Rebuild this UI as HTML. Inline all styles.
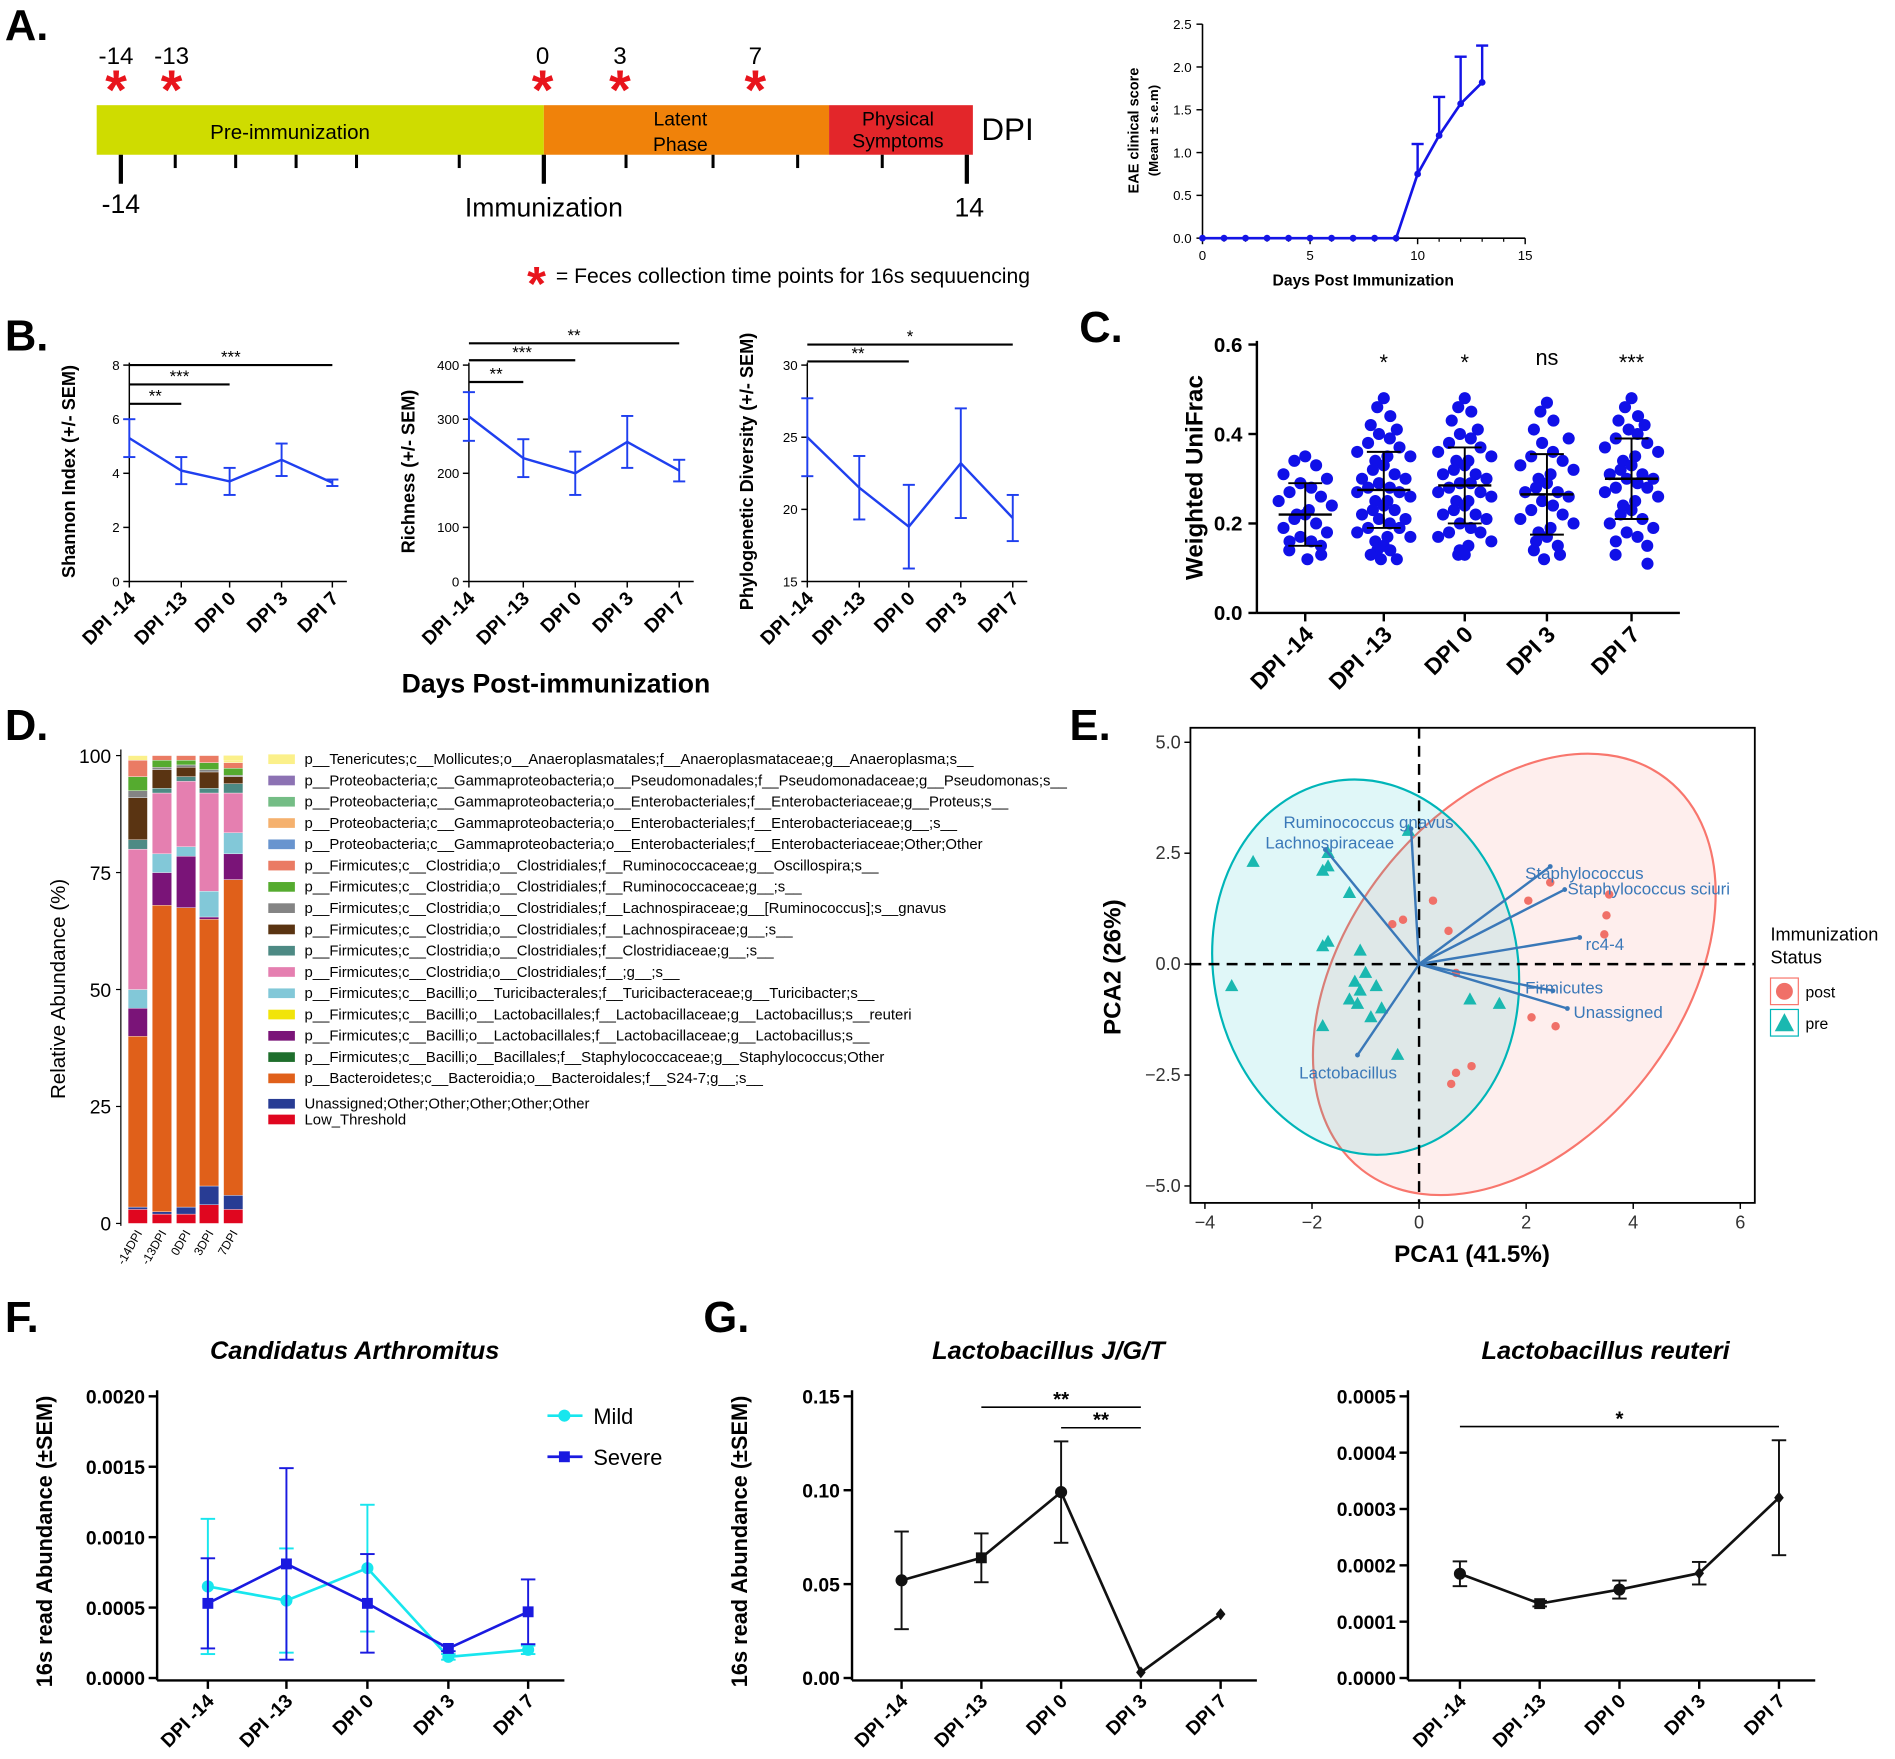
<!DOCTYPE html>
<html><head><meta charset="utf-8"><title>Figure</title>
<style>
html,body{margin:0;padding:0;background:#fff;}
svg{display:block;font-family:"Liberation Sans",Arial,sans-serif;}
</style></head>
<body>
<svg id="fig" width="1895" height="1759" viewBox="0 0 1568 1455" preserveAspectRatio="none" xmlns="http://www.w3.org/2000/svg"></svg>
<script>
// ---------- DATA ----------
const eaeDays=[0,1,2,3,4,5,6,7,8,9,10,11,12,13];
const eaeScore=[0,0,0,0,0,0,0,0,0,0,0.75,1.2,1.57,1.82];
const eaeErr=[0,0,0,0,0,0,0,0,0,0,0.35,0.45,0.55,0.43];
const dpiCats=["DPI -14","DPI -13","DPI 0","DPI 3","DPI 7"];
const shannon=[5.3,4.1,3.7,4.5,3.65];
const shannonErr=[0.7,0.5,0.5,0.6,0.12];
const richness=[305,228,200,258,205];
const richnessErr=[45,35,40,48,20];
const pd=[25,21.5,18.8,23.2,19.4];
const pdErr=[2.7,2.2,2.9,3.8,1.6];
const uni0=[.35,.34,.33,.31,.30,.29,.28,.27,.26,.25,.24,.23,.22,.22,.21,.20,.19,.18,.17,.16,.16,.15,.14,.13,.12];
const uni1=[.48,.46,.44,.42,.41,.40,.39,.38,.37,.36,.35,.35,.34,.33,.32,.31,.30,.30,.29,.28,.28,.27,.27,.26,.25,.25,.24,.23,.23,.22,.21,.21,.20,.19,.19,.18,.17,.17,.16,.15,.14,.14,.13,.12,.12];
const uni2=[.48,.46,.45,.43,.41,.40,.39,.38,.37,.36,.35,.34,.34,.33,.32,.31,.31,.30,.29,.29,.28,.27,.27,.26,.25,.25,.24,.23,.22,.22,.21,.20,.19,.18,.18,.17,.16,.15,.14,.13,.13];
const uni3=[.47,.45,.43,.41,.39,.38,.36,.35,.34,.33,.32,.31,.30,.29,.28,.27,.27,.26,.25,.24,.23,.22,.21,.20,.19,.18,.17,.16,.15,.14,.13,.12];
const uni4=[.48,.46,.44,.43,.42,.41,.40,.39,.38,.37,.36,.35,.34,.33,.32,.31,.31,.30,.30,.29,.28,.28,.27,.26,.25,.24,.23,.22,.21,.20,.19,.18,.17,.16,.15,.13,.11];
const uniMed=[0.22,0.275,0.285,0.265,0.30];
const uniSd=[0.07,0.085,0.085,0.09,0.09];
const uniSig=["","*","*","ns","***"];
const taxa=["p__Tenericutes;c__Mollicutes;o__Anaeroplasmatales;f__Anaeroplasmataceae;g__Anaeroplasma;s__",
"p__Proteobacteria;c__Gammaproteobacteria;o__Pseudomonadales;f__Pseudomonadaceae;g__Pseudomonas;s__",
"p__Proteobacteria;c__Gammaproteobacteria;o__Enterobacteriales;f__Enterobacteriaceae;g__Proteus;s__",
"p__Proteobacteria;c__Gammaproteobacteria;o__Enterobacteriales;f__Enterobacteriaceae;g__;s__",
"p__Proteobacteria;c__Gammaproteobacteria;o__Enterobacteriales;f__Enterobacteriaceae;Other;Other",
"p__Firmicutes;c__Clostridia;o__Clostridiales;f__Ruminococcaceae;g__Oscillospira;s__",
"p__Firmicutes;c__Clostridia;o__Clostridiales;f__Ruminococcaceae;g__;s__",
"p__Firmicutes;c__Clostridia;o__Clostridiales;f__Lachnospiraceae;g__[Ruminococcus];s__gnavus",
"p__Firmicutes;c__Clostridia;o__Clostridiales;f__Lachnospiraceae;g__;s__",
"p__Firmicutes;c__Clostridia;o__Clostridiales;f__Clostridiaceae;g__;s__",
"p__Firmicutes;c__Clostridia;o__Clostridiales;f__;g__;s__",
"p__Firmicutes;c__Bacilli;o__Turicibacterales;f__Turicibacteraceae;g__Turicibacter;s__",
"p__Firmicutes;c__Bacilli;o__Lactobacillales;f__Lactobacillaceae;g__Lactobacillus;s__reuteri",
"p__Firmicutes;c__Bacilli;o__Lactobacillales;f__Lactobacillaceae;g__Lactobacillus;s__",
"p__Firmicutes;c__Bacilli;o__Bacillales;f__Staphylococcaceae;g__Staphylococcus;Other",
"p__Bacteroidetes;c__Bacteroidia;o__Bacteroidales;f__S24-7;g__;s__",
"Unassigned;Other;Other;Other;Other;Other",
"Low_Threshold"];
const taxaColors=["#fbf08a","#8c72b3","#74bd85","#f5b16e","#6894cf","#ea7b64","#55ab2f","#848484","#5a3412","#4d8a84","#e57fb0","#82c8d8","#f1e40a","#7a1478","#1e6e2c","#e0601a","#283c94","#e0061f"];
const barCats=["-14DPI","-13DPI","0DPI","3DPI","7DPI"];
const abund0=[3,0.5,36.5,0,6,0,4,30,2,9,1.5,3,3.5,0,0,0,0,1];
const abund1=[2,0.5,65.5,0,7,0,4,13,1,4,0.5,1.5,1,0,0,0,0,0];
const abund2=[2,1.5,64,0,11,0,2,14,1,2,0.5,1,1,0,0,0,0,0];
const abund3=[4,4,57,0,0.5,0,5.5,21,1,3.5,0.5,1.5,1.5,0,0,0,0,0];
const abund4=[3,3,67.5,0,5.5,0,4.5,8.5,2,1.5,0.3,1.5,1.2,0,0,0,0,0.5];
const prePts=[[-3.1,2.3],[-3.5,-0.5],[-1.8,2.1],[-1.7,2.2],[-1.7,2.5],[-1.3,1.6],[-1.8,0.4],[-1.7,0.5],[-1.1,0.3],[-1.0,-0.2],[-1.2,-0.4],[-1.1,-0.6],[-0.8,-0.5],[-1.3,-0.8],[-1.15,-0.9],[-0.9,-1.2],[-0.7,-1.0],[-1.8,-1.4],[-0.2,3.0],[0.95,-0.8],[1.5,-0.9],[-0.4,-2.05]];
const postPts=[[0.26,1.43],[0.55,0.75],[0.69,-0.2],[2.04,1.43],[2.45,1.84],[3.55,1.57],[3.5,1.1],[3.46,0.67],[2.1,-1.2],[2.55,-1.4],[0.98,-2.3],[0.69,-2.45],[0.6,-2.7],[-0.3,1.0],[-0.5,0.9]];
const loadNames=["Ruminococcus gnavus","Lachnospiraceae","Staphylococcus","Staphylococcus sciuri","rc4-4","Firmicutes","Unassigned","Lactobacillus"];
const loadX=[-0.15,-1.75,2.45,2.72,3.0,2.5,2.77,-1.15];
const loadY=[3.05,2.58,2.2,1.68,0.6,-0.6,-1.0,-2.05];
const mild=[0.00065,0.00055,0.00078,0.00015,0.0002];
const mildErr=[0.00048,0.00037,0.00045,0.00002,0.00003];
const severe=[0.00053,0.00081,0.00053,0.00021,0.00047];
const severeErr=[0.00032,0.00068,0.00035,0.00002,0.00023];
const lacJGT=[0.052,0.064,0.099,0.003,0.034];
const lacJGTErr=[0.026,0.013,0.027,0,0];
const reuteri=[0.000185,0.000132,0.000157,0.000186,0.00032];
const reuteriErr=[0.000022,0.000005,0.000016,0.00002,0.000102];

// ---------- HELPERS ----------
const svg=document.getElementById('fig');
const NS="http://www.w3.org/2000/svg";
function mk(tag,attrs,name,parent){
  const el=document.createElementNS(NS,tag);
  for(const k in attrs) el.setAttribute(k,attrs[k]);
  
  
  (parent||svg).appendChild(el);
  return el;
}
function txt(x,y,s,opt,name,parent){
  const o=Object.assign({x:x,y:y,'font-size':12,fill:'#000'},opt||{});
  const t=mk('text',o,name,parent);
  t.textContent=s;
  return t;
}
function line(x1,y1,x2,y2,opt,name,parent){
  return mk('line',Object.assign({x1:x1,y1:y1,x2:x2,y2:y2,stroke:'#000','stroke-width':1.5},opt||{}),name,parent);
}
function lin(d0,d1,r0,r1){return v=>r0+(v-d0)*(r1-r0)/(d1-d0);}
function errbar(x,y1,y2,w,col,name,parent){
  line(x,y1,x,y2,{stroke:col,'stroke-width':1.6},name,parent);
  line(x-w,y1,x+w,y1,{stroke:col,'stroke-width':1.6},name+'-cap-top',parent);
  line(x-w,y2,x+w,y2,{stroke:col,'stroke-width':1.6},name+'-cap-bottom',parent);
}
function rotLabel(x,y,s,fs,name,parent,bold){
  return txt(x,y,s,{'font-size':fs,'text-anchor':'end','font-weight':bold?'bold':'normal',transform:`rotate(-45 ${x} ${y})`},name,parent);
}
function panelLetter(x,y,s){txt(x,y,s,{'font-size':36,'font-weight':'bold'},'panel-label-'+s[0].toLowerCase());}

// ---------- PANEL A ----------
panelLetter(4,33,"A.");
const gA=mk('g',{},'timeline-panel');
mk('rect',{x:80,y:87,width:370,height:41,fill:'#cfdc00'},'pre-immunization-phase',gA);
mk('rect',{x:450,y:87,width:236,height:41,fill:'#f0820a'},'latent-phase',gA);
mk('rect',{x:686,y:87,width:119,height:41,fill:'#e3262a'},'physical-symptoms-phase',gA);
txt(240,115,"Pre-immunization",{'font-size':17,'text-anchor':'middle'},'pre-immunization-label',gA);
txt(563,104,"Latent",{'font-size':16,'text-anchor':'middle'},'latent-label',gA);
txt(563,125,"Phase",{'font-size':16,'text-anchor':'middle'},'phase-label',gA);
txt(743,104,"Physical",{'font-size':16,'text-anchor':'middle'},'physical-label',gA);
txt(743,122,"Symptoms",{'font-size':16,'text-anchor':'middle'},'symptoms-label',gA);
txt(812,116,"DPI",{'font-size':26},'dpi-label',gA);
[100,450,800].forEach(x=>line(x,128,x,152,{'stroke-width':3.5},'major-tick',gA));
[145,195,245,295,380,518,590,660,730].forEach(x=>line(x,128,x,139,{'stroke-width':2.5},'minor-tick',gA));
txt(100,176,"-14",{'font-size':22,'text-anchor':'middle'},'tick-minus14',gA);
txt(450,179,"Immunization",{'font-size':22,'text-anchor':'middle'},'immunization-label',gA);
txt(802,179,"14",{'font-size':22,'text-anchor':'middle'},'tick-14',gA);
[["-14",96],["-13",142],["0",449],["3",513],["7",625]].forEach(p=>{
  txt(p[1],53,p[0],{'font-size':20,'text-anchor':'middle'},'collection-day-label',gA);
  txt(p[1],90,"*",{'font-size':46,'text-anchor':'middle',fill:'#e8141c','font-weight':'bold'},'collection-asterisk',gA);
});
txt(444,248,"*",{'font-size':40,'text-anchor':'middle',fill:'#e8141c','font-weight':'bold'},'legend-asterisk',gA);
txt(460,234,"= Feces collection time points for 16s sequuencing",{'font-size':17.5},'asterisk-legend-text',gA);

// EAE inset
const gE=mk('g',{},'eae-score-chart');
const ex=lin(0,15,995,1262), ey=lin(0,2.5,197,20);
line(995,20,995,197,{'stroke-width':1.3},'eae-y-axis',gE);
line(995,197,1262,197,{'stroke-width':1.3},'eae-x-axis',gE);
[0,0.5,1,1.5,2,2.5].forEach(v=>{line(990,ey(v),995,ey(v),{'stroke-width':1.2},'eae-y-tick',gE);txt(986,ey(v)+4,v.toFixed(1),{'font-size':11,'text-anchor':'end'},'eae-y-tick-label',gE);});
[0,5,10,15].forEach(v=>{line(ex(v),197,ex(v),202,{'stroke-width':1.2},'eae-x-tick',gE);txt(ex(v),215,String(v),{'font-size':11,'text-anchor':'middle'},'eae-x-tick-label',gE);});
for(let v=1;v<15;v++) if(v%5) line(ex(v),197,ex(v),200,{'stroke-width':1},'eae-x-minor-tick',gE);
txt(1128,236,"Days Post Immunization",{'font-size':13,'font-weight':'bold','text-anchor':'middle'},'eae-x-axis-title',gE);
txt(942,108,"EAE clinical score",{'font-size':12,'font-weight':'bold','text-anchor':'middle',transform:'rotate(-90 942 108)'},'eae-y-axis-title',gE);
txt(958,108,"(Mean ± s.e.m)",{'font-size':11,'font-weight':'bold','text-anchor':'middle',transform:'rotate(-90 958 108)'},'eae-y-axis-subtitle',gE);
mk('polyline',{points:eaeDays.map((d,i)=>ex(d)+','+ey(eaeScore[i])).join(' '),fill:'none',stroke:'#1414e6','stroke-width':2.2},'eae-line',gE);
eaeDays.forEach((d,i)=>{
  if(eaeErr[i]>0){line(ex(d),ey(eaeScore[i]),ex(d),ey(eaeScore[i]+eaeErr[i]),{stroke:'#1414e6','stroke-width':2},'eae-error',gE);line(ex(d)-5,ey(eaeScore[i]+eaeErr[i]),ex(d)+5,ey(eaeScore[i]+eaeErr[i]),{stroke:'#1414e6','stroke-width':2},'eae-error-cap',gE);}
  mk('circle',{cx:ex(d),cy:ey(eaeScore[i]),r:2.8,fill:'#1414e6'},'eae-point',gE);
});

// ---------- PANEL B ----------
panelLetter(4,290,"B.");
function alphaChart(name,x0,xs,y0v,y1v,ticks,vals,errs,ytitle,sigs){
  const g=mk('g',{},name);
  const y=lin(y0v,y1v,481,302);
  line(x0,300,x0,481,{'stroke-width':1.2},name+'-y-axis',g);
  line(x0,481,xs[4]+12,481,{'stroke-width':1.2},name+'-x-axis',g);
  ticks.forEach(v=>{line(x0-5,y(v),x0,y(v),{'stroke-width':1.2},name+'-y-tick',g);txt(x0-8,y(v)+4,String(v),{'font-size':11,'text-anchor':'end'},name+'-y-tick-label',g);});
  xs.forEach((x,i)=>{line(x,481,x,486,{'stroke-width':1.2},name+'-x-tick',g);rotLabel(x+6,496,dpiCats[i],16,name+'-x-label',g,true);});
  mk('polyline',{points:xs.map((x,i)=>x+','+y(vals[i])).join(' '),fill:'none',stroke:'#1f3fef','stroke-width':2},name+'-line',g);
  xs.forEach((x,i)=>errbar(x,y(vals[i]-errs[i]),y(vals[i]+errs[i]),5,'#1f3fef',name+'-error',g));
  txt(x0-45,390,ytitle,{'font-size':15,'font-weight':'bold','text-anchor':'middle',transform:`rotate(-90 ${x0-45} 390)`},name+'-y-axis-title',g);
  sigs.forEach(s=>{line(xs[0],s[1],xs[s[0]],s[1],{'stroke-width':1.8},name+'-sig-bar',g);txt((xs[0]+xs[s[0]])/2,s[1]-2,s[2],{'font-size':14,'text-anchor':'middle'},name+'-sig-label',g);});
}
alphaChart('shannon-chart',107,[107,150,190,233,275],0,8,[0,2,4,6,8],shannon,shannonErr,"Shannon Index (+/- SEM)",[[4,302,'***'],[2,318,'***'],[1,334,'**']]);
alphaChart('richness-chart',388,[388,433,476,519,562],0,400,[0,100,200,300,400],richness,richnessErr,"Richness (+/- SEM)",[[4,284,'**'],[2,298,'***'],[1,316,'**']]);
alphaChart('pd-chart',668,[668,711,752,795,838],15,30,[15,20,25,30],pd,pdErr,"Phylogenetic Diversity (+/- SEM)",[[4,285,'*'],[2,299,'**']]);
txt(460,573,"Days Post-immunization",{'font-size':22,'font-weight':'bold','text-anchor':'middle'},'b-x-axis-title');

// ---------- PANEL C ----------
panelLetter(893,283,"C.");
(function(){
  const g=mk('g',{},'unifrac-chart');
  const y=lin(0,0.6,507,285), xs=[1080,1145,1212,1280,1350];
  const jit=[0,-9,9,-18,18,-4,5,-13,13,-22,22,3,-7];
  line(1040,282,1040,507,{'stroke-width':2},'unifrac-y-axis',g);
  line(1040,507,1390,507,{'stroke-width':2},'unifrac-x-axis',g);
  [0,0.2,0.4,0.6].forEach(v=>{line(1033,y(v),1040,y(v),{'stroke-width':2},'unifrac-y-tick',g);txt(1028,y(v)+6,v.toFixed(1),{'font-size':17,'font-weight':'bold','text-anchor':'end'},'unifrac-y-tick-label',g);});
  txt(995,395,"Weighted UniFrac",{'font-size':20,'font-weight':'bold','text-anchor':'middle',transform:'rotate(-90 995 395)'},'unifrac-y-axis-title',g);
  const groups=[uni0,uni1,uni2,uni3,uni4];
  groups.forEach((arr,gi)=>{
    arr.forEach((v,i)=>{const off=jit[i%jit.length]*(v>0.4||v<0.15?0.6:1);mk('circle',{cx:xs[gi]+off,cy:y(v),r:5,fill:'#1010e8'},'unifrac-dot',g);});
    line(xs[gi]-22,y(uniMed[gi]),xs[gi]+22,y(uniMed[gi]),{'stroke-width':2},'unifrac-median',g);
    errbar(xs[gi],y(uniMed[gi]-uniSd[gi]),y(uniMed[gi]+uniSd[gi]),14,'#000','unifrac-sd',g);
    line(xs[gi],507,xs[gi],514,{'stroke-width':2},'unifrac-x-tick',g);
    rotLabel(xs[gi]+8,526,dpiCats[gi],19,'unifrac-x-label',g,true);
    if(uniSig[gi]) txt(xs[gi],uniSig[gi]==='ns'?302:306,uniSig[gi],{'font-size':18,'text-anchor':'middle'},'unifrac-sig',g);
  });
})();

// ---------- PANEL D ----------
panelLetter(4,612,"D.");
(function(){
  const g=mk('g',{},'taxa-bar-chart');
  const y=lin(0,100,1012,625), bx=[106,126,146,165,185], bw=16;
  line(100,620,100,1014,{'stroke-width':1},'taxa-y-axis',g);
  [0,25,50,75,100].forEach(v=>{line(96,y(v),100,y(v),{'stroke-width':1},'taxa-y-tick',g);txt(92,y(v)+6,String(v),{'font-size':16,'text-anchor':'end'},'taxa-y-tick-label',g);});
  txt(54,818,"Relative Abundance (%)",{'font-size':17,'text-anchor':'middle',transform:'rotate(-90 54 818)'},'taxa-y-axis-title',g);
  const all=[abund0,abund1,abund2,abund3,abund4];
  all.forEach((arr,bi)=>{
    let cum=0;
    arr.forEach((v,k)=>{
      const ci=taxaColors.length-1-k;
      if(v>0) mk('rect',{x:bx[bi],y:y(cum+v),width:bw,height:y(cum)-y(cum+v),fill:taxaColors[ci],stroke:'#fff','stroke-width':0.3},'taxa-segment',g);
      cum+=v;
    });
    if(cum<100) mk('rect',{x:bx[bi],y:y(100),width:bw,height:y(cum)-y(100),fill:taxaColors[0]},'taxa-segment-top',g);
    txt(bx[bi]+12,1020,barCats[bi],{'font-size':10,'text-anchor':'end',transform:`rotate(-60 ${bx[bi]+12} 1020)`},'taxa-x-label',g);
  });
  taxa.forEach((t,i)=>{
    const yy=i<16?628+i*17.6:913+(i-16)*13;
    mk('rect',{x:222,y:yy-4,width:22,height:8,fill:taxaColors[i]},'legend-swatch',g);
    txt(252,yy+4,t,{'font-size':12.3},'legend-entry',g);
  });
})();

// ---------- PANEL E ----------
panelLetter(885,612,"E.");
(function(){
  const g=mk('g',{},'pca-chart');
  const x=lin(-4,6,997,1440), y=lin(0,5,797.5,614);
  mk('rect',{x:985,y:602,width:467,height:393,fill:'none',stroke:'#000','stroke-width':1.5},'pca-frame',g);
  [-4,-2,0,2,4,6].forEach(v=>{line(x(v),995,x(v),1000,{'stroke-width':1.2},'pca-x-tick',g);txt(x(v),1016,v<0?'−'+(-v):String(v),{'font-size':15,'text-anchor':'middle','fill':'#333'},'pca-x-tick-label',g);});
  [-5,-2.5,0,2.5,5].forEach(v=>{line(980,y(v),985,y(v),{'stroke-width':1.2},'pca-y-tick',g);txt(977,y(v)+5,(v<0?'−':'')+Math.abs(v).toFixed(1),{'font-size':15,'text-anchor':'end','fill':'#333'},'pca-y-tick-label',g);});
  txt(1218,1044,"PCA1 (41.5%)",{'font-size':20,'font-weight':'bold','text-anchor':'middle'},'pca-x-axis-title',g);
  txt(927,800,"PCA2 (26%)",{'font-size':20,'font-weight':'bold','text-anchor':'middle',transform:'rotate(-90 927 800)'},'pca-y-axis-title',g);
  mk('ellipse',{cx:1253,cy:806,rx:205,ry:138,transform:'rotate(-52 1253 806)',fill:'rgba(248,118,109,0.12)',stroke:'#f8766d','stroke-width':1.8},'post-ellipse',g);
  mk('ellipse',{cx:1130,cy:800,rx:126,ry:156,transform:'rotate(-10 1130 800)',fill:'rgba(0,191,196,0.12)',stroke:'#00b5b8','stroke-width':1.8},'pre-ellipse',g);
  line(985,797.5,1452,797.5,{'stroke-width':2,'stroke-dasharray':'9 6'},'pca-h-zero',g);
  line(x(0),602,x(0),995,{'stroke-width':2,'stroke-dasharray':'9 6'},'pca-v-zero',g);
  prePts.forEach(p=>mk('polygon',{points:`${x(p[0])},${y(p[1])-6} ${x(p[0])-5.5},${y(p[1])+4} ${x(p[0])+5.5},${y(p[1])+4}`,fill:'#1ab8b0'},'pre-point',g));
  postPts.forEach(p=>mk('circle',{cx:x(p[0]),cy:y(p[1]),r:3.5,fill:'#f07068'},'post-point',g));
  loadNames.forEach((n,i)=>{
    line(x(0),y(0),x(loadX[i]),y(loadY[i]),{stroke:'#3a78b8','stroke-width':2},'loading-arrow',g);
    mk('circle',{cx:x(loadX[i]),cy:y(loadY[i]),r:2,fill:'#3a78b8'},'loading-arrowhead',g);
  });
  const lpos=[[1062,685],[1047,702],[1262,727],[1297,740],[1312,786],[1262,822],[1302,842],[1075,892]];
  loadNames.forEach((n,i)=>txt(lpos[i][0],lpos[i][1],n,{'font-size':14,fill:'#3a78b8'},'loading-label',g));
  txt(1465,778,"Immunization",{'font-size':15},'pca-legend-title',g);
  txt(1465,797,"Status",{'font-size':15},'pca-legend-title-2',g);
  mk('rect',{x:1465,y:809,width:23,height:22,fill:'#fff',stroke:'#f8766d'},'legend-post-box',g);
  mk('circle',{cx:1476.5,cy:820,r:7,fill:'#f07068'},'legend-post-marker',g);
  txt(1494,825,"post",{'font-size':13},'legend-post-label',g);
  mk('rect',{x:1465,y:835,width:23,height:22,fill:'#fff',stroke:'#00b5b8'},'legend-pre-box',g);
  mk('polygon',{points:'1476.5,838 1468.5,853 1484.5,853',fill:'#1ab8b0'},'legend-pre-marker',g);
  txt(1494,851,"pre",{'font-size':13},'legend-pre-label',g);
})();

// ---------- PANELS F, G ----------
panelLetter(4,1102,"F.");
panelLetter(582,1102,"G.");
function lineChart(name,x0,xs,ymax,ticks,fmt,series,title,ytitle,sigs){
  const g=mk('g',{},name);
  const y=lin(0,ymax,1388,1155);
  line(x0,1150,x0,1390,{'stroke-width':2},name+'-y-axis',g);
  line(x0,1390,xs[4]+30,1390,{'stroke-width':2},name+'-x-axis',g);
  ticks.forEach(v=>{line(x0-7,y(v),x0,y(v),{'stroke-width':2},name+'-y-tick',g);txt(x0-10,y(v)+6,fmt(v),{'font-size':16,'font-weight':'bold','text-anchor':'end'},name+'-y-tick-label',g);});
  xs.forEach((x,i)=>{line(x,1390,x,1397,{'stroke-width':2},name+'-x-tick',g);rotLabel(x+6,1408,dpiCats[i],16,name+'-x-label',g,true);});
  txt((x0+xs[4])/2+10,1124,title,{'font-size':21,'font-weight':'bold','font-style':'italic','text-anchor':'middle'},name+'-title',g);
  if(ytitle) txt(x0-87,1275,ytitle,{'font-size':18,'font-weight':'bold','text-anchor':'middle',transform:`rotate(-90 ${x0-87} 1275)`},name+'-y-axis-title',g);
  series.forEach(s=>{
    mk('polyline',{points:xs.map((x,i)=>x+','+y(s.v[i])).join(' '),fill:'none',stroke:s.c,'stroke-width':2.2},name+'-'+s.n+'-line',g);
    xs.forEach((x,i)=>{
      if(s.e[i]>0) errbar(x,y(Math.max(0,s.v[i]-s.e[i])),y(s.v[i]+s.e[i]),6,s.c,name+'-'+s.n+'-error',g);
      if(s.m==='sq') mk('rect',{x:x-4.5,y:y(s.v[i])-4.5,width:9,height:9,fill:s.c},name+'-'+s.n+'-point',g);
      else if(s.m==='dia'&&i>=3) mk('polygon',{points:`${x},${y(s.v[i])-5} ${x+4},${y(s.v[i])} ${x},${y(s.v[i])+5} ${x-4},${y(s.v[i])}`,fill:s.c},name+'-'+s.n+'-point',g);
      else if(s.m==='dia'&&i===1) mk('rect',{x:x-4.5,y:y(s.v[i])-4.5,width:9,height:9,fill:s.c},name+'-'+s.n+'-point',g);
      else mk('circle',{cx:x,cy:y(s.v[i]),r:5,fill:s.c},name+'-'+s.n+'-point',g);
    });
  });
  (sigs||[]).forEach(s=>{line(xs[s[0]],s[2],xs[s[1]],s[2],{'stroke-width':1.3},name+'-sig-bar',g);txt((xs[s[0]]+xs[s[1]])/2,s[2]-1,s[3],{'font-size':17,'text-anchor':'middle','font-weight':'bold'},name+'-sig-label',g);});
  return g;
}
const gF=lineChart('candidatus-chart',130,[172,237,304,371,437],0.002,[0,0.0005,0.001,0.0015,0.002],v=>v.toFixed(4),
  [{n:'mild',v:mild,e:mildErr,c:'#18e6ee',m:'c'},{n:'severe',v:severe,e:severeErr,c:'#1a1ae0',m:'sq'}],
  "Candidatus Arthromitus","16s read Abundance (±SEM)");
line(453,1171,482,1171,{stroke:'#18e6ee','stroke-width':2.2},'legend-mild-line',gF);
mk('circle',{cx:467,cy:1171,r:5,fill:'#18e6ee'},'legend-mild-marker',gF);
txt(491,1178,"Mild",{'font-size':18},'legend-mild-label',gF);
line(453,1205,482,1205,{stroke:'#1a1ae0','stroke-width':2.2},'legend-severe-line',gF);
mk('rect',{x:462.5,y:1200.5,width:9,height:9,fill:'#1a1ae0'},'legend-severe-marker',gF);
txt(491,1212,"Severe",{'font-size':18},'legend-severe-label',gF);
lineChart('lactobacillus-jgt-chart',705,[746,812,878,944,1010],0.15,[0,0.05,0.1,0.15],v=>v.toFixed(2),
  [{n:'jgt',v:lacJGT,e:lacJGTErr,c:'#111',m:'dia'}],"Lactobacillus J/G/T","16s read Abundance (±SEM)",[[1,3,1164,'**'],[2,3,1181,'**']]);
lineChart('lactobacillus-reuteri-chart',1165,[1208,1274,1340,1406,1472],0.0005,[0,0.0001,0.0002,0.0003,0.0004,0.0005],v=>v.toFixed(4),
  [{n:'reuteri',v:reuteri,e:reuteriErr,c:'#111',m:'dia'}],"Lactobacillus reuteri","",[[0,4,1180,'*']]);
</script>
</body></html>
